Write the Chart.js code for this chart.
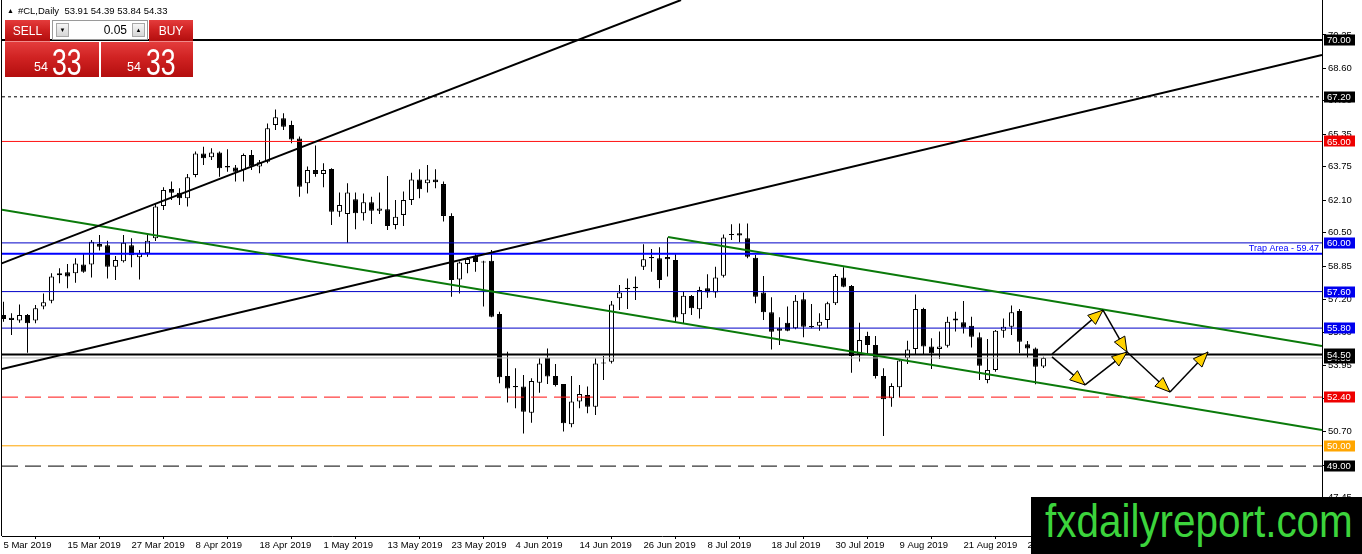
<!DOCTYPE html>
<html>
<head>
<meta charset="utf-8">
<title>#CL,Daily</title>
<script src="https://cdn.jsdelivr.net/npm/chart.js@4.4.1/dist/chart.umd.min.js"></script>
<style>
  html, body { margin:0; padding:0; background:#fff; overflow:hidden; }
  #wrap { position:relative; width:1362px; height:554px; font-family:"Liberation Sans", Arial, sans-serif; }
  #c { position:absolute; left:0; top:0; }
  .hdr { position:absolute; left:7px; top:5px; font-size:9.5px; color:#000; white-space:nowrap; line-height:12px; }
  .hdr .tri { font-size:7px; margin-right:4px; position:relative; top:-1px; }
  .red { position:absolute; background:linear-gradient(to bottom,#e43c3c 0%,#d02222 45%,#b30e0e 100%); color:#fff; box-sizing:border-box; }
  .btn { font-size:12px; line-height:22px; text-align:center; border-bottom:1px solid #f08a8a; }
  .lot { position:absolute; left:52px; top:20px; width:96px; height:20px; background:#fff; border:1px solid #9a9a9a; box-sizing:border-box; }
  .abtn { position:absolute; top:2px; width:13px; height:14px; background:linear-gradient(#f6f6f6,#d6d6d6); border:1px solid #a8a8a8; box-sizing:border-box; font-size:6px; line-height:12px; text-align:center; color:#000; }
  .lotv { position:absolute; right:20px; top:0; font-size:12px; line-height:18px; color:#000; }
  .pxs { position:absolute; font-size:12.5px; line-height:13px; color:#fff; }
  .pxb { position:absolute; font-size:37px; line-height:37px; color:#fff; transform:scaleX(0.72); transform-origin:left top; white-space:nowrap; }
  #brand { position:absolute; left:1031px; top:497px; width:331px; height:57px; background:#000; overflow:hidden; }
  #brand span { position:absolute; left:14px; top:0; font-size:47px; line-height:47px; color:#3cd43c; transform:scaleX(0.86); transform-origin:left top; white-space:nowrap; }
</style>
</head>
<body>
<div id="wrap">
  <canvas id="c" width="1362" height="554"></canvas>
  <div class="hdr"><span class="tri">▲</span>#CL,Daily&nbsp; 53.91 54.39 53.84 54.33</div>
  <div class="red btn" style="left:5px;top:20px;width:45px;height:22px;">SELL</div>
  <div class="lot">
    <div class="abtn" style="left:3px;">▼</div>
    <div class="lotv">0.05</div>
    <div class="abtn" style="left:79px;">▲</div>
  </div>
  <div class="red btn" style="left:149px;top:20px;width:44px;height:22px;">BUY</div>
  <div class="red" style="left:5px;top:42px;width:94px;height:35px;"></div>
  <div class="red" style="left:101px;top:42px;width:92px;height:35px;"></div>
  <div class="pxs" style="left:34px;top:61px;">54</div>
  <div class="pxb" style="left:52px;top:44px;">33</div>
  <div class="pxs" style="left:127px;top:61px;">54</div>
  <div class="pxb" style="left:146px;top:44px;">33</div>
  <div id="brand"><span>fxdailyreport.com</span></div>
</div>
<script>
// ---------------- DATA ----------------
const opens = [56.45,56.31,56.17,56.45,56.17,56.86,57.15,58.40,58.55,58.50,58.94,58.94,59.95,59.88,58.83,59.09,59.88,59.29,59.49,60.23,
61.82,62.66,62.47,62.20,63.35,64.41,64.22,64.46,63.79,63.72,63.59,64.33,63.76,64.00,65.81,66.14,65.81,65.15,62.94,63.59,
63.40,63.64,61.54,61.42,62.15,61.46,62.00,61.59,61.66,60.88,61.38,62.11,63.13,62.94,63.13,62.90,61.33,58.20,58.96,59.35,
59.08,59.12,56.50,53.44,52.95,52.92,51.63,53.11,54.34,53.44,53.05,51.06,52.18,52.50,51.93,54.06,54.14,57.27,57.79,57.84,
58.83,59.24,59.24,59.30,59.16,56.48,57.38,56.73,57.76,57.56,58.38,60.39,60.47,60.23,59.27,57.55,56.58,55.79,56.07,55.79,
57.22,55.90,55.92,56.20,57.02,58.30,57.88,54.52,55.41,54.97,53.44,52.34,52.88,54.31,54.77,56.74,54.89,54.77,54.93,56.28,
56.09,55.92,55.35,53.24,53.74,55.67,55.87,56.64,55.00,54.80,53.91];
const highs = [57.10,56.53,56.97,56.50,56.94,57.51,58.50,58.75,58.96,59.24,59.49,60.14,60.39,60.11,59.35,60.39,60.23,59.65,60.39,61.95,
62.74,63.02,62.69,63.40,64.50,64.74,64.66,64.50,64.61,63.84,64.41,64.58,64.09,65.89,66.58,66.39,66.02,65.24,63.76,64.80,
63.92,63.68,62.48,62.94,62.48,62.44,62.28,62.48,63.30,62.11,62.53,63.46,63.63,63.84,63.63,63.02,61.46,59.08,59.29,59.49,
59.12,59.65,56.61,54.64,53.82,53.49,53.33,54.31,54.80,54.03,53.05,53.44,53.00,52.92,54.31,54.43,57.14,57.92,58.25,58.34,
59.93,59.70,59.78,60.26,59.44,57.60,57.43,57.84,58.45,58.83,60.42,60.92,60.96,60.96,59.40,58.37,57.32,56.33,56.86,57.43,
57.56,56.99,56.53,57.10,58.47,58.80,57.92,56.07,55.62,55.41,53.82,53.08,54.26,55.18,57.46,56.81,55.30,55.63,56.36,56.61,
57.14,56.36,55.58,55.26,55.71,56.28,56.91,56.74,55.17,54.84,54.39];
const lows = [56.12,55.46,56.07,54.59,56.04,56.73,57.02,58.01,57.76,58.04,58.53,58.30,59.62,58.25,58.17,59.04,58.80,58.20,59.32,60.09,
61.62,62.11,61.87,61.79,63.23,63.84,64.09,63.26,63.51,63.02,63.02,63.59,63.43,63.92,65.56,65.56,64.91,62.28,62.44,63.26,
62.74,60.88,61.29,60.01,60.67,61.10,60.93,61.42,60.64,60.67,60.83,61.87,62.20,62.48,62.69,61.05,57.35,57.51,58.50,58.58,
56.86,56.33,53.08,52.13,51.85,50.61,51.14,52.62,53.05,52.92,50.70,50.91,51.85,51.60,51.52,53.24,54.06,56.69,56.74,57.19,
58.66,58.58,57.76,58.34,56.09,56.04,56.45,56.28,57.30,57.30,58.30,60.14,60.03,59.24,57.02,56.20,54.75,54.97,55.65,55.74,
55.35,55.79,55.67,55.79,56.94,57.81,53.60,54.15,54.47,53.32,50.48,51.93,52.39,54.03,54.48,54.48,53.78,54.28,54.84,55.63,
55.54,54.84,53.24,53.08,53.65,55.33,55.46,54.56,54.34,53.03,53.84];
const closes = [56.25,56.20,56.45,56.04,56.78,57.07,58.34,58.50,58.34,58.99,58.58,60.06,59.81,58.83,59.16,60.01,59.39,59.49,60.11,61.79,
62.61,62.47,62.20,63.23,64.41,64.17,64.46,63.68,63.71,63.51,64.33,63.76,63.97,65.65,66.19,65.73,65.10,62.77,63.59,63.40,
63.59,61.54,61.87,62.49,61.46,62.00,61.59,61.70,60.83,61.29,62.11,63.13,62.64,63.13,62.99,61.33,58.17,59.03,59.21,59.06,
59.03,56.36,53.38,52.83,52.88,51.68,53.19,54.06,53.41,53.00,51.11,52.18,52.55,51.93,54.06,54.11,56.97,57.56,57.73,57.76,
59.19,59.30,58.17,59.19,56.32,57.40,56.78,57.68,57.56,58.30,60.26,60.44,60.36,59.32,57.35,56.58,55.62,55.67,55.67,57.15,
55.87,55.84,56.12,57.02,58.37,57.84,54.43,55.21,54.97,53.44,52.29,52.95,54.20,54.75,56.74,54.89,54.56,54.89,56.12,56.17,
55.82,55.38,53.95,53.74,55.67,55.87,56.58,55.13,54.80,53.90,54.33];

const xTickBars = [0,8,16,24,32,40,48,56,64,72,80,88,96,104,112,120,128];
const xTickLabels = ['5 Mar 2019','15 Mar 2019','27 Mar 2019','8 Apr 2019','18 Apr 2019','1 May 2019','13 May 2019','23 May 2019',
  '4 Jun 2019','14 Jun 2019','26 Jun 2019','8 Jul 2019','18 Jul 2019','30 Jul 2019','9 Aug 2019','21 Aug 2019','2 Sep 2019'];
const yTickValues = [47.45,49.05,50.70,52.35,53.95,55.60,57.20,58.85,60.50,62.10,63.75,65.35,67.00,68.60,70.25];

// horizontal levels
const levelPrices = [70.00,67.20,65.00,60.00,59.47,57.60,55.80,54.50,54.33,52.40,50.00,49.00];
// axis price tags
const tagPrices = [54.33,70.00,67.20,65.00,60.00,57.60,55.80,54.50,52.40,50.00,49.00];
const trapPrice = 59.47;
const trapText = 'Trap Area - 59.47';

// trend lines (bar index, price)
const trendStartIdx   = [-0.44, -0.19, -0.19, 83.06];
const trendStartPrice = [58.96, 53.78, 61.63, 60.29];
const trendEndIdx     = [84.69, 164.81, 164.81, 164.81];
const trendEndPrice   = [71.97, 69.26, 50.78, 54.92];

// projected path arrows (bar index, price)
const arrowFromIdx   = [131.06,137.44,131.06,135.19,140.44,145.81];
const arrowFromPrice = [54.52, 56.69, 54.38, 53.00, 54.62, 52.65];
const arrowToIdx     = [137.44,140.44,135.19,140.44,145.81,150.56];
const arrowToPrice   = [56.69, 54.62, 53.00, 54.62, 52.65, 54.62];

// ---------------- STYLE / LAYOUT ----------------
const X_MIN = -0.1875, X_MAX = 164.8125;
const Y_MIN = 45.555, Y_MAX = 71.971;
const FONT = '"Liberation Sans", Arial, sans-serif';
const levelStyle = [
  {c:'#000000', w:2, d:[]}, {c:'#000000', w:1, d:[3,3]}, {c:'#ff1010', w:1, d:[]}, {c:'#0000c8', w:1, d:[]},
  {c:'#0000ff', w:2, d:[]}, {c:'#0000c8', w:1, d:[]}, {c:'#0000c8', w:1, d:[]}, {c:'#000000', w:2, d:[]},
  {c:'#b8b8b8', w:1, d:[]}, {c:'#ff1010', w:1, d:[16,7]}, {c:'#ffa500', w:1, d:[]}, {c:'#000000', w:1, d:[16,7]}
];
const tagColors = ['#000','#000','#000','#ee0000','#0000ee','#0000ee','#0000ee','#000','#ee0000','#ffa500','#000'];
const trendStyle = [{c:'#000', w:2}, {c:'#000', w:2}, {c:'#0a7a0a', w:2}, {c:'#0a7a0a', w:2}];

// ---------------- BUILD ----------------
const wickData = lows.map((l, i) => ({x: i, y: [l, highs[i]]}));
const bodyData = opens.map((o, i) => ({x: i, y: [o, closes[i]]}));
const bodyFill = opens.map((o, i) => closes[i] >= o ? '#ffffff' : '#000000');

const datasets = [
  {type:'bar', data: wickData, backgroundColor:'#000', borderWidth:0, barThickness:1, grouped:false, order:3, inflateAmount:0},
  {type:'bar', data: bodyData, backgroundColor: bodyFill, borderColor:'#000', borderWidth:1, borderSkipped:false,
   barThickness:5, grouped:false, order:2, inflateAmount:0, minBarLength:1}
];
levelPrices.forEach((p, k) => {
  datasets.push({type:'line', data:[{x:X_MIN, y:p},{x:X_MAX, y:p}], borderColor:levelStyle[k].c, borderWidth:levelStyle[k].w,
    borderDash:levelStyle[k].d, pointRadius:0, fill:false, tension:0, order:1});
});
trendStartIdx.forEach((s, k) => {
  datasets.push({type:'line', data:[{x:s, y:trendStartPrice[k]},{x:trendEndIdx[k], y:trendEndPrice[k]}],
    borderColor:trendStyle[k].c, borderWidth:trendStyle[k].w, pointRadius:0, fill:false, tension:0, order:0});
});

function drawArrow(ctx, x0, y0, x1, y1) {
  ctx.beginPath(); ctx.moveTo(x0, y0); ctx.lineTo(x1, y1);
  ctx.strokeStyle = '#000'; ctx.lineWidth = 1.5; ctx.stroke();
  const a = Math.atan2(y1 - y0, x1 - x0), L = 15, W = 6;
  const bx = x1 - L * Math.cos(a), by = y1 - L * Math.sin(a);
  ctx.beginPath(); ctx.moveTo(x1, y1);
  ctx.lineTo(bx + W * Math.sin(a), by - W * Math.cos(a));
  ctx.lineTo(bx - W * Math.sin(a), by + W * Math.cos(a));
  ctx.closePath(); ctx.fillStyle = '#ffd200'; ctx.fill();
  ctx.lineWidth = 1; ctx.strokeStyle = '#000'; ctx.stroke();
}

const overlay = {
  id: 'overlay',
  afterDatasetsDraw(chart) {
    const {ctx, chartArea: a} = chart, xs = chart.scales.x, ys = chart.scales.y;
    ctx.save();
    ctx.font = '9px ' + FONT; ctx.fillStyle = '#0000ff'; ctx.textAlign = 'right'; ctx.textBaseline = 'alphabetic';
    ctx.fillText(trapText, a.right - 3, ys.getPixelForValue(trapPrice) - 3);
    arrowFromIdx.forEach((fi, k) => {
      drawArrow(ctx, xs.getPixelForValue(fi), ys.getPixelForValue(arrowFromPrice[k]),
        xs.getPixelForValue(arrowToIdx[k]), ys.getPixelForValue(arrowToPrice[k]));
    });
    ctx.restore();
  },
  afterDraw(chart) {
    const {ctx, chartArea: a} = chart, ys = chart.scales.y;
    ctx.save();
    ctx.strokeStyle = '#000'; ctx.lineWidth = 1;
    ctx.beginPath(); ctx.moveTo(a.left - 0.5, a.top); ctx.lineTo(a.left - 0.5, a.bottom); ctx.stroke();
    ctx.font = '9.5px ' + FONT; ctx.textAlign = 'left'; ctx.textBaseline = 'middle';
    tagPrices.forEach((p, k) => {
      const yp = ys.getPixelForValue(p);
      ctx.fillStyle = tagColors[k];
      ctx.fillRect(a.right + 2, Math.round(yp) - 5.5, 31, 11);
      ctx.fillStyle = '#fff';
      ctx.fillText(p.toFixed(2), a.right + 5, yp + 0.5);
    });
    ctx.restore();
  }
};

Chart.defaults.font.family = FONT;
new Chart(document.getElementById('c'), {
  type: 'bar',
  data: { datasets },
  plugins: [overlay],
  options: {
    responsive: false, animation: false, events: [],
    layout: { padding: {left: 2, top: 0, right: 0, bottom: 0} },
    plugins: { legend: {display:false}, tooltip: {enabled:false} },
    scales: {
      x: {
        type: 'linear', min: X_MIN, max: X_MAX, offset: false,
        afterBuildTicks: s => { s.ticks = xTickBars.map(v => ({value: v})); },
        afterFit: s => { s.height = 18; s.paddingLeft = 0; s.paddingRight = 0; },
        ticks: { autoSkip:false, maxRotation:0, minRotation:0, align:'start', padding:1, color:'#000',
          font:{size:9.5}, callback: (v, i) => xTickLabels[i] },
        grid: { drawOnChartArea:false, drawTicks:true, tickLength:3, color:'#000' },
        border: { display:true, color:'#000', width:1 }
      },
      y: {
        type: 'linear', position: 'right', min: Y_MIN, max: Y_MAX,
        afterBuildTicks: s => { s.ticks = yTickValues.map(v => ({value: v})); },
        afterFit: s => { s.width = 40; s.paddingTop = 0; s.paddingBottom = 0; },
        ticks: { padding:2, color:'#000', font:{size:9.5}, callback: v => Number(v).toFixed(2) },
        grid: { drawOnChartArea:false, drawTicks:true, tickLength:4, color:'#000' },
        border: { display:true, color:'#000', width:1 }
      }
    }
  }
});
</script>
</body>
</html>
